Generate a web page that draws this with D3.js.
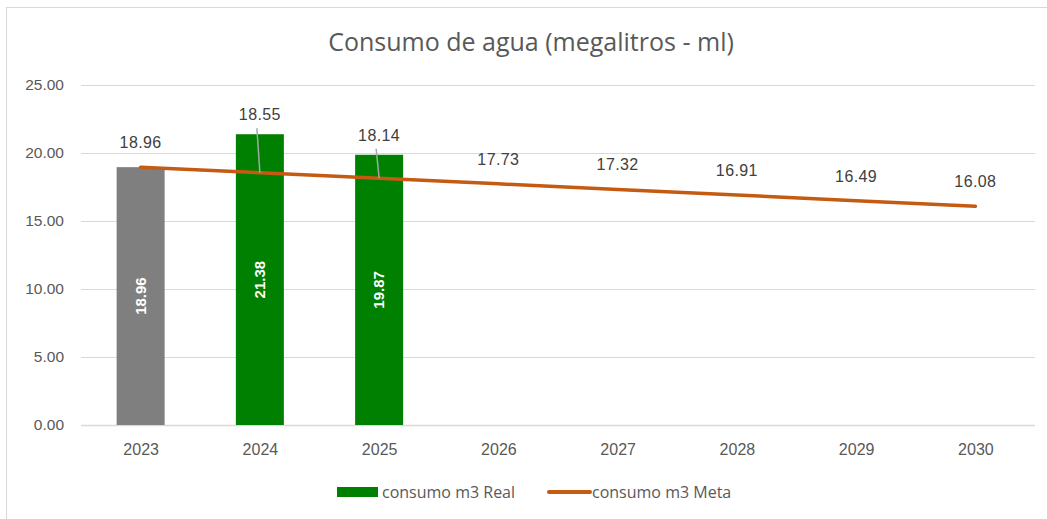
<!DOCTYPE html>
<html lang="es">
  <head>
    <meta charset="utf-8">
    <title>Consumo de agua</title>
    <style>
      body { margin: 0; background: #fff; }
      text { font-family: "Liberation Sans", Arial, sans-serif; }
    </style>
  </head>
  <body>
    <svg id="chart"></svg>

    <script src="https://d3js.org/d3.v7.min.js"></script>

    <script type="text/javascript">
      // datos
      const years = ['2023', '2024', '2025', '2026', '2027', '2028', '2029', '2030'];
      const real = [18.96, 21.38, 19.87, null, null, null, null, null];
      const meta = [18.96, 18.55, 18.14, 17.73, 17.32, 16.91, 16.49, 16.08];
      const yTicks = [0, 5, 10, 15, 20, 25];

      const width = 1047, height = 519;
      const plotLeft = 81, plotRight = 1035, plotTop = 85, plotBottom = 425;

      const svg = d3.select('#chart')
        .attr('width', width)
        .attr('height', height);

      // marco
      svg.append('rect')
        .attr('x', 6.5).attr('y', 7.5)
        .attr('width', width + 10).attr('height', height + 10)
        .attr('fill', 'none')
        .attr('stroke', '#d9d9d9');

      svg.append('text')
        .attr('x', 531).attr('y', 51)
        .attr('text-anchor', 'middle')
        .style('font-family', '"Open Sans", sans-serif')
        .style('font-size', '25px')
        .style('fill', '#595959')
        .text('Consumo de agua (megalitros - ml)');

      const xc = d3.scalePoint().domain(years).range([plotLeft, plotRight]).padding(0.5);
      const y = d3.scaleLinear().domain([0, 25]).range([plotBottom, plotTop]);

      // rejilla
      svg.append('g')
        .selectAll('line')
        .data(yTicks)
        .join('line')
        .attr('x1', plotLeft).attr('x2', plotRight)
        .attr('y1', d => Math.round(y(d)) + 0.5)
        .attr('y2', d => Math.round(y(d)) + 0.5)
        .attr('stroke', '#d9d9d9')
        .attr('stroke-width', d => d === 0 ? 1.5 : 1);

      const yAxis = svg.append('g')
        .attr('transform', `translate(${plotLeft - 17},0)`)
        .call(d3.axisLeft(y).tickValues(yTicks).tickFormat(d3.format('.2f')).tickSize(0));
      yAxis.select('.domain').remove();
      yAxis.selectAll('text')
        .attr('x', 0)
        .style('font-size', '15.5px').style('fill', '#595959')
        .style('font-family', '"Liberation Sans", Arial, sans-serif');

      const xAxis = svg.append('g')
        .attr('transform', `translate(0,${plotBottom})`)
        .call(d3.axisBottom(xc).tickSize(0));
      xAxis.select('.domain').remove();
      xAxis.selectAll('text')
        .attr('y', 30).attr('dy', null)
        .style('font-size', '16px').style('fill', '#595959')
        .style('font-family', '"Liberation Sans", Arial, sans-serif');

      // barras
      const barData = years.map((yr, i) => ({ yr, v: real[i], i })).filter(d => d.v != null);

      svg.append('g')
        .selectAll('rect')
        .data(barData)
        .join('rect')
        .attr('x', d => xc(d.yr) - 24)
        .attr('width', 48)
        .attr('y', d => y(d.v))
        .attr('height', d => y(0) - y(d.v))
        .attr('fill', d => d.i === 0 ? '#7f7f7f' : '#008000');

      svg.append('g')
        .selectAll('text')
        .data(barData)
        .join('text')
        .attr('transform', d => `translate(${xc(d.yr) + 5},${(y(d.v) + y(0)) / 2}) rotate(-90)`)
        .attr('text-anchor', 'middle')
        .style('font-size', '15px')
        .style('font-weight', 'bold')
        .style('fill', '#fff')
        .text(d => d.v.toFixed(2));

      // linea meta
      const line = d3.line()
        .x((d, i) => xc(years[i]))
        .y(d => y(d));

      svg.append('path')
        .datum(meta)
        .attr('d', line)
        .attr('fill', 'none')
        .attr('stroke', '#c55a11')
        .attr('stroke-width', 3.5)
        .attr('stroke-linecap', 'round');

      // etiquetas meta (sobre la barra si la tapa)
      const metaLabels = meta.map((v, i) => {
        const ly = y(v);
        const barTop = real[i] != null ? y(real[i]) : ly;
        const leader = barTop < ly - 2;
        const base = leader ? barTop - 14 : ly - 19;
        return { v, cx: xc(years[i]), ly, base, leader };
      });

      svg.append('g')
        .selectAll('line')
        .data(metaLabels.filter(d => d.leader))
        .join('line')
        .attr('x1', d => d.cx - 3).attr('x2', d => d.cx)
        .attr('y1', d => d.base + 8).attr('y2', d => d.ly)
        .attr('stroke', '#a6a6a6')
        .attr('stroke-width', 1.5);

      svg.append('g')
        .selectAll('text')
        .data(metaLabels)
        .join('text')
        .attr('x', d => d.cx)
        .attr('y', d => d.base)
        .attr('text-anchor', 'middle')
        .style('font-size', '16px')
        .style('letter-spacing', '0.4px')
        .style('fill', '#404040')
        .text(d => d.v.toFixed(2));

      // leyenda
      const legend = svg.append('g');
      legend.append('rect')
        .attr('x', 337).attr('y', 487).attr('width', 41).attr('height', 10)
        .attr('fill', '#008000');
      legend.append('text')
        .attr('x', 382).attr('y', 498)
        .style('font-family', '"Open Sans", sans-serif')
        .style('font-size', '16px').style('fill', '#595959')
        .text('consumo m3 Real');
      legend.append('line')
        .attr('x1', 549).attr('x2', 590).attr('y1', 492).attr('y2', 492)
        .attr('stroke', '#c55a11').attr('stroke-width', 4).attr('stroke-linecap', 'round');
      legend.append('text')
        .attr('x', 592).attr('y', 498)
        .style('font-family', '"Open Sans", sans-serif')
        .style('font-size', '16px').style('fill', '#595959')
        .text('consumo m3 Meta');
    </script>
  </body>
</html>
